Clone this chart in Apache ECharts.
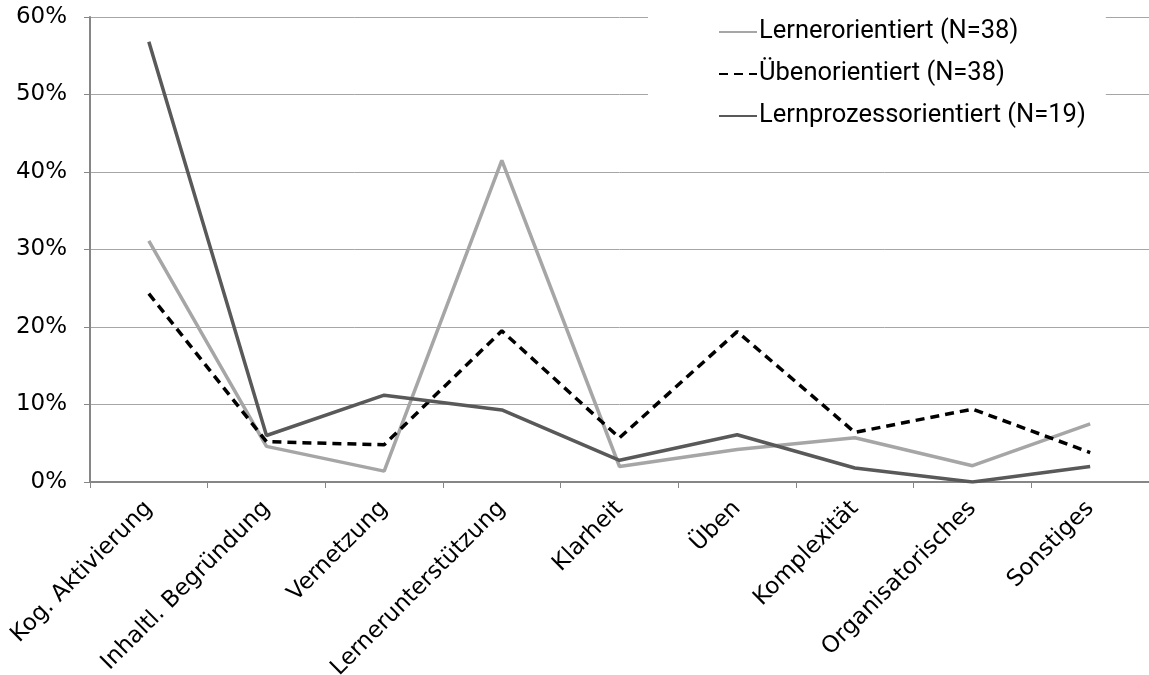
<!DOCTYPE html>
<html>
<head>
<meta charset="utf-8">
<script src="https://cdn.jsdelivr.net/npm/echarts@6/dist/echarts.min.js"></script>
<style>
  html, body { margin: 0; padding: 0; background: #fff; }
  #chart { width: 1149px; height: 675px; }
</style>
</head>
<body>
<div id="chart"></div>
<script>
// Kategorien der Unterrichtsqualität
const categories = [
  'Kog. Aktivierung', 'Inhaltl. Begründung', 'Vernetzung', 'Lernerunterstützung',
  'Klarheit', 'Üben', 'Komplexität', 'Organisatorisches', 'Sonstiges'
];

// Anteile in Prozent je Gruppe
const lernerorientiert = [31.1, 4.6, 1.4, 41.5, 2.0, 4.2, 5.7, 2.1, 7.5];
const uebenorientiert = [24.3, 5.2, 4.8, 19.5, 5.7, 19.4, 6.4, 9.4, 3.8];
const lernprozessorientiert = [56.8, 6.0, 11.2, 9.3, 2.8, 6.1, 1.8, 0.0, 2.0];

const seriesNames = ['Lernerorientiert (N=38)', 'Übenorientiert (N=38)', 'Lernprozessorientiert (N=19)'];

const yTicks = [0, 10, 20, 30, 40, 50, 60];

const labelFont = 'DejaVu Sans';

const chart = echarts.init(document.getElementById('chart'));

chart.setOption({
  animation: false,
  backgroundColor: '#ffffff',
  textStyle: { fontFamily: labelFont },
  grid: { left: 90, right: 0, top: 17, bottom: 193, containLabel: false, outerBoundsMode: 'none' },
  legend: {
    orient: 'vertical',
    left: 648,
    top: 0,
    padding: [17, 20, 14, 70],
    backgroundColor: '#ffffff',
    itemWidth: 38,
    itemHeight: 14,
    itemGap: 12,
    itemStyle: { opacity: 0 },
    textStyle: { fontFamily: 'Roboto', fontSize: 25.5, lineHeight: 30, color: '#000', padding: [0, 0, 0, -3] },
    data: seriesNames
  },
  xAxis: {
    type: 'category',
    data: categories,
    boundaryGap: true,
    axisLine: { lineStyle: { color: '#868686', width: 2 } },
    axisTick: { show: true, length: 6, lineStyle: { color: '#868686', width: 1 } },
    axisLabel: {
      rotate: 45,
      interval: 0,
      margin: 23,
      fontFamily: labelFont,
      fontSize: 23,
      color: '#000'
    },
    splitLine: { show: false }
  },
  yAxis: {
    type: 'value',
    min: yTicks[0],
    max: yTicks[yTicks.length - 1],
    interval: 10,
    axisLine: { show: true, lineStyle: { color: '#868686', width: 2 } },
    axisTick: { show: true, length: 6, lineStyle: { color: '#868686', width: 1 } },
    axisLabel: {
      formatter: v => v + '%',
      fontFamily: labelFont,
      fontSize: 23,
      color: '#000',
      margin: 23
    },
    splitLine: { show: true, lineStyle: { color: '#a6a6a6', width: 1 } }
  },
  series: [
    {
      name: seriesNames[0],
      type: 'line',
      data: lernerorientiert,
      symbol: 'none',
      lineStyle: { color: '#a6a6a6', width: 3.5 },
      itemStyle: { color: '#a6a6a6' },
      z: 2
    },
    {
      name: seriesNames[1],
      type: 'line',
      data: uebenorientiert,
      symbol: 'none',
      lineStyle: { color: '#000000', width: 3.5, type: [9, 6] },
      itemStyle: { color: '#000000' },
      z: 3
    },
    {
      name: seriesNames[2],
      type: 'line',
      data: lernprozessorientiert,
      symbol: 'none',
      lineStyle: { color: '#595959', width: 3.5 },
      itemStyle: { color: '#595959' },
      z: 4
    }
  ]
});
</script>
</body>
</html>
